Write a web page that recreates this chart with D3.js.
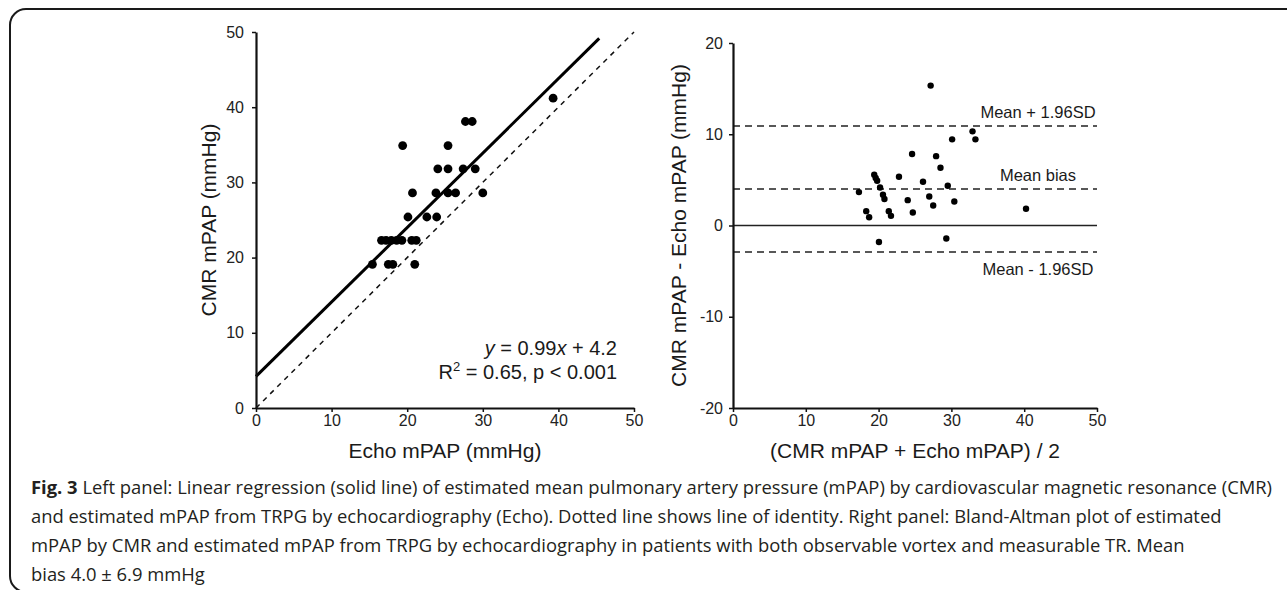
<!DOCTYPE html>
<html lang="en">
<head>
    <meta charset="UTF-8">
    <title>Fig. 3 CMR vs Echo mPAP</title>
    <script src="https://cdn.jsdelivr.net/npm/d3@7/dist/d3.min.js"></script>
    <style>
        body{
            margin: 0;
            background-color: #ffffff;
        }
        .axis path,
        .axis line {
            stroke: #111;
        }
        .axis path {
            stroke-width: 2.2;
        }
        .axis line {
            stroke-width: 1.5;
        }
        .axis text {
            font-family: 'Liberation Sans', Arial, sans-serif;
            font-size: 16px;
            fill: #222;
        }
        .titulo {
            font-family: 'Liberation Sans', Arial, sans-serif;
            font-size: 21px;
            fill: #1a1a1a;
        }
        .etiqueta {
            font-family: 'Liberation Sans', Arial, sans-serif;
            font-size: 16.5px;
            fill: #1a1a1a;
        }
        .ecuacion {
            font-family: 'Liberation Sans', Arial, sans-serif;
            font-size: 20px;
            fill: #1a1a1a;
        }
        .pie {
            font-family: 'Open Sans', 'Noto Sans', sans-serif;
            font-size: 19px;
            fill: #231f20;
        }
    </style>
</head>
<body>
<div id="grafico"></div>

<script>
// Panel izquierdo: Echo mPAP (x) contra CMR mPAP (y)
var echoMpap = [15.4, 17.5, 18.1, 21.0,
                16.6, 17.2, 17.9, 18.6, 19.3, 20.6, 21.2,
                19.4,
                20.1, 22.6, 23.9,
                20.7, 23.8, 25.4, 26.4, 30.0,
                24.05, 25.4, 27.4, 29.0,
                25.4,
                27.7, 28.6,
                39.3];
var cmrMpap  = [19.1, 19.1, 19.1, 19.1,
                22.3, 22.3, 22.3, 22.3, 22.3, 22.3, 22.3,
                34.9,
                25.4, 25.4, 25.4,
                28.6, 28.6, 28.6, 28.6, 28.6,
                31.8, 31.8, 31.8, 31.8,
                34.9,
                38.1, 38.1,
                41.2];

// Panel derecho: Bland-Altman (media, diferencia)
var baMedia = [17.3, 18.3, 18.7, 19.4, 19.6, 19.8, 20.05, 20.2, 20.6, 20.8,
               21.4, 21.7, 22.8, 24.0, 24.6, 24.7, 26.1, 26.96, 27.15, 27.5,
               27.9, 28.5, 29.3, 29.5, 30.1, 30.4, 32.9, 33.3, 40.25];
var baDif   = [3.66, 1.57, 0.91, 5.56, 5.2, 4.9, -1.8, 4.17, 3.37, 2.9,
               1.57, 1.06, 5.34, 2.78, 7.83, 1.43, 4.79, 3.18, 15.33, 2.2,
               7.6, 6.33, -1.43, 4.35, 9.44, 2.63, 10.32, 9.44, 1.83];

// Regresion y limites de acuerdo
var pendiente = 0.99;
var intercepto = 4.2;
var regXMax = 45.4;
var sesgoMedio = 4.0;
var limiteSup = 10.9;
var limiteInf = -2.9;

// Ticks
var ticksIzq = [0, 10, 20, 30, 40, 50];
var ticksDerY = [-20, -10, 0, 10, 20];
var ticksDerX = [0, 10, 20, 30, 40, 50];

// Pie de figura
var pieLineas = [
    "Left panel: Linear regression (solid line) of estimated mean pulmonary artery pressure (mPAP) by cardiovascular magnetic resonance (CMR)",
    "and estimated mPAP from TRPG by echocardiography (Echo). Dotted line shows line of identity. Right panel: Bland-Altman plot of estimated",
    "mPAP by CMR and estimated mPAP from TRPG by echocardiography in patients with both observable vortex and measurable TR. Mean",
    "bias 4.0 \u00b1 6.9 mmHg"
];
var anchoPie = 1242; // ancho de la primera linea

var w = 1287;
var h = 590;

var svg = d3.select("#grafico")
    .append("svg")
    .attr("width", w)
    .attr("height", h);

// marco redondeado
svg.append("rect")
    .attr("x", 10)
    .attr("y", 9)
    .attr("width", 1300)
    .attr("height", 583)
    .attr("rx", 16)
    .attr("fill", "none")
    .attr("stroke", "#1a1a1a")
    .attr("stroke-width", 2);

var formatoTick = function(d){ return String(d); };

//----------------- Panel izquierdo -----------------
var xIzq = d3.scaleLinear().domain([0, 50]).range([256, 634]);
var yIzq = d3.scaleLinear().domain([0, 50]).range([408, 32]);

var linea = d3.line()
    .x(function(d){ return xIzq(d[0]); })
    .y(function(d){ return yIzq(d[1]); });

// linea de identidad
svg.append("path")
    .attr("d", linea([[0, 0], [50, 50]]))
    .attr("fill", "none")
    .attr("stroke", "#111")
    .attr("stroke-width", 1.5)
    .attr("stroke-dasharray", "5,5");

// regresion
svg.append("path")
    .attr("d", linea([[0, intercepto], [regXMax, pendiente * regXMax + intercepto]]))
    .attr("fill", "none")
    .attr("stroke", "#000")
    .attr("stroke-width", 3);

svg.append("g").selectAll("circle")
    .data(echoMpap)
    .enter()
    .append("circle")
    .attr("cx", function(d){ return xIzq(d); })
    .attr("cy", function(d, i){ return yIzq(cmrMpap[i]); })
    .attr("r", 4.4)
    .attr("fill", "#000");

svg.append("g")
    .attr("class", "axis")
    .attr("transform", "translate(0," + yIzq(0) + ")")
    .call(d3.axisBottom(xIzq).tickValues(ticksIzq).tickFormat(formatoTick)
        .tickSize(4).tickSizeOuter(0).tickPadding(3));

svg.append("g")
    .attr("class", "axis")
    .attr("transform", "translate(" + xIzq(0) + ",0)")
    .call(d3.axisLeft(yIzq).tickValues(ticksIzq).tickFormat(formatoTick)
        .tickSize(4).tickSizeOuter(0).tickPadding(8));

svg.append("text")
    .attr("class", "titulo")
    .attr("text-anchor", "middle")
    .attr("x", (xIzq(0) + xIzq(50)) / 2)
    .attr("y", 458)
    .text("Echo mPAP (mmHg)");

svg.append("text")
    .attr("class", "titulo")
    .attr("text-anchor", "middle")
    .attr("transform", "translate(216," + (yIzq(0) + yIzq(50)) / 2 + ") rotate(-90)")
    .text("CMR mPAP (mmHg)");

var eq1 = svg.append("text")
    .attr("class", "ecuacion")
    .attr("text-anchor", "end")
    .attr("x", 617)
    .attr("y", 355);
eq1.append("tspan").attr("font-style", "italic").text("y");
eq1.append("tspan").text(" = " + pendiente.toFixed(2));
eq1.append("tspan").attr("font-style", "italic").text("x");
eq1.append("tspan").text(" + " + intercepto.toFixed(1));

var eq2 = svg.append("text")
    .attr("class", "ecuacion")
    .attr("text-anchor", "end")
    .attr("x", 617)
    .attr("y", 379);
eq2.append("tspan").text("R");
eq2.append("tspan").attr("font-size", "13px").attr("dy", -8).text("2");
eq2.append("tspan").attr("dy", 8).text(" = 0.65, p < 0.001");

//----------------- Panel derecho -----------------
var xDer = d3.scaleLinear().domain([0, 50]).range([733, 1097]);
var yDer = d3.scaleLinear().domain([-20, 20]).range([408, 43]);

svg.append("line")
    .attr("x1", xDer(0)).attr("x2", xDer(50))
    .attr("y1", yDer(0)).attr("y2", yDer(0))
    .attr("stroke", "#222")
    .attr("stroke-width", 1.6);

var lineasDash = [
    {v: limiteSup, texto: "Mean + 1.96SD", dy: -8},
    {v: sesgoMedio, texto: "Mean bias", dy: -8},
    {v: limiteInf, texto: "Mean - 1.96SD", dy: 23}
];

svg.append("g").selectAll("line")
    .data(lineasDash)
    .enter()
    .append("line")
    .attr("x1", xDer(0)).attr("x2", xDer(50))
    .attr("y1", function(d){ return yDer(d.v); })
    .attr("y2", function(d){ return yDer(d.v); })
    .attr("stroke", "#222")
    .attr("stroke-width", 1.5)
    .attr("stroke-dasharray", "7,5");

svg.append("g").selectAll("text")
    .data(lineasDash)
    .enter()
    .append("text")
    .attr("class", "etiqueta")
    .attr("text-anchor", "middle")
    .attr("x", 1038)
    .attr("y", function(d){ return yDer(d.v) + d.dy; })
    .text(function(d){ return d.texto; });

svg.append("g").selectAll("circle")
    .data(baMedia)
    .enter()
    .append("circle")
    .attr("cx", function(d){ return xDer(d); })
    .attr("cy", function(d, i){ return yDer(baDif[i]); })
    .attr("r", 3.2)
    .attr("fill", "#000");

svg.append("g")
    .attr("class", "axis")
    .attr("transform", "translate(0," + yDer(-20) + ")")
    .call(d3.axisBottom(xDer).tickValues(ticksDerX).tickFormat(formatoTick)
        .tickSize(4).tickSizeOuter(0).tickPadding(3));

svg.append("g")
    .attr("class", "axis")
    .attr("transform", "translate(" + xDer(0) + ",0)")
    .call(d3.axisLeft(yDer).tickValues(ticksDerY).tickFormat(formatoTick)
        .tickSize(4).tickSizeOuter(0).tickPadding(6));

svg.append("text")
    .attr("class", "titulo")
    .attr("text-anchor", "middle")
    .attr("x", (xDer(0) + xDer(50)) / 2)
    .attr("y", 458)
    .text("(CMR mPAP + Echo mPAP) / 2");

svg.append("text")
    .attr("class", "titulo")
    .attr("text-anchor", "middle")
    .attr("transform", "translate(686," + (yDer(-20) + yDer(20)) / 2 + ") rotate(-90)")
    .text("CMR mPAP - Echo mPAP (mmHg)");

//----------------- Pie de figura -----------------
var textosPie = pieLineas.map(function(t, i){
    var txt = svg.append("text")
        .attr("class", "pie")
        .attr("x", 31)
        .attr("y", 494 + i * 29);
    if (i === 0) {
        txt.append("tspan").attr("font-weight", "bold").text("Fig. 3");
        txt.append("tspan").text(" " + t);
    } else {
        txt.text(t);
    }
    return txt;
});
// ajusta el tamano de letra para que la primera linea ocupe su ancho
var anchoNatural = textosPie[0].node().getComputedTextLength();
var tamPie = 19 * anchoPie / anchoNatural;
textosPie.forEach(function(txt){ txt.style("font-size", tamPie + "px"); });
</script>
</body>
</html>
